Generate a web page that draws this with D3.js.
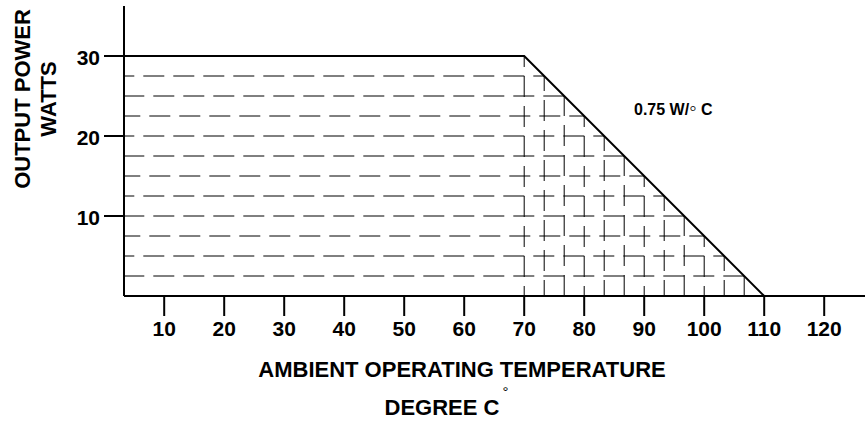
<!DOCTYPE html>
<html>
<head>
<meta charset="utf-8">
<script src="https://cdn.jsdelivr.net/npm/d3@7"></script>
<style>
  body { margin: 0; background: #fff; }
  svg { display: block; }
  text { font-family: Arial, "Liberation Sans", sans-serif; font-weight: bold; fill: #000; }
</style>
</head>
<body>
<svg id="chart" width="865" height="424"></svg>
<script>
// ---- data ----
const curveTemp  = [3.3, 70, 110];     // °C
const curvePower = [30, 30, 0];        // W
const xTicks = [10, 20, 30, 40, 50, 60, 70, 80, 90, 100, 110, 120];
const yTicks = [10, 20, 30];
const hatchLevels = [27.5, 25, 22.5, 20, 17.5, 15, 12.5, 10, 7.5, 5, 2.5]; // W
const xTitle = "AMBIENT OPERATING TEMPERATURE";
const xUnit = "DEGREE C";
const yTitle1 = "OUTPUT POWER";
const yTitle2 = "WATTS";
const slopeLabel = ["0.75 W/", "\u25E6", " C"];

// ---- layout ----
const svg = d3.select("#chart");
const x = d3.scaleLinear().domain([3.3, 126.8]).range([124, 865]);
const y = d3.scaleLinear().domain([0, 36.25]).range([296, 6]);

// ---- hatch (clipped to the safe operating area) ----
const areaPts = [[curveTemp[0], 0]].concat(curveTemp.map((t, i) => [t, curvePower[i]]));
svg.append("clipPath").attr("id", "soa")
  .append("path")
  .attr("d", d3.line().x(d => x(d[0])).y(d => y(d[1]))(areaPts) + "Z");

const hatch = svg.append("g").attr("clip-path", "url(#soa)")
  .attr("stroke", "#000").attr("stroke-width", 1).attr("fill", "none");

const period = 30;
const rowStarts = [23.3, 3.3, 29.3];
const x0 = x(curveTemp[0]);
hatch.selectAll("line.h").data(hatchLevels).join("line")
  .attr("class", "h")
  .attr("x1", x0).attr("x2", x(curveTemp[2]))
  .attr("y1", d => y(d)).attr("y2", d => y(d))
  .attr("stroke-dasharray", "21,9")
  .attr("stroke-dashoffset", (d, i) => (((x0 - rowStarts[i % 3]) % period) + period) % period);

// vertical hatch at temperatures where the derating line crosses each hatch level
const tempAtPower = d3.scaleLinear().domain([curvePower[1], curvePower[2]]).range([curveTemp[1], curveTemp[2]]);
const vTemps = [30].concat(hatchLevels).map(p => tempAtPower(p));
const colStarts = [16, 10, 5];
const yTop = y(curvePower[1]);
hatch.selectAll("line.v").data(vTemps).join("line")
  .attr("class", "v")
  .attr("x1", d => x(d)).attr("x2", d => x(d))
  .attr("y1", yTop).attr("y2", y(0))
  .attr("stroke-dasharray", "21,9")
  .attr("stroke-dashoffset", (d, i) => (((yTop - colStarts[i % 3]) % period) + period) % period);

// ---- derating curve ----
svg.append("path")
  .datum(curveTemp.map((t, i) => [t, curvePower[i]]))
  .attr("d", d3.line().x(d => x(d[0])).y(d => y(d[1])))
  .attr("fill", "none").attr("stroke", "#000").attr("stroke-width", 2);

// ---- axes ----
const gx = svg.append("g").attr("transform", `translate(0,${y(0)})`)
  .call(d3.axisBottom(x).tickValues(xTicks).tickSize(20).tickSizeOuter(0).tickPadding(5.5).offset(0));
const gy = svg.append("g").attr("transform", `translate(${x(curveTemp[0])},0)`)
  .call(d3.axisLeft(y).tickValues(yTicks).tickSize(20).tickSizeOuter(0).tickPadding(4).offset(0));
[gx, gy].forEach(g => {
  g.selectAll("path.domain").attr("stroke", "#000").attr("stroke-width", 2);
  g.selectAll(".tick line").attr("stroke", "#000").attr("stroke-width", 2);
  g.selectAll(".tick text").attr("fill", "#000")
    .style("font-family", 'Arial, "Liberation Sans", sans-serif')
    .style("font-weight", "bold").style("font-size", "21px");
  g.attr("font-family", null).attr("font-size", null);
});
gy.selectAll(".tick text").attr("dy", "0.43em");

// ---- titles ----
svg.append("text").attr("x", 462).attr("y", 376.5)
  .attr("text-anchor", "middle").style("font-size", "22px").text(xTitle);
svg.append("text").attr("x", 442).attr("y", 415)
  .attr("text-anchor", "middle").style("font-size", "22px").text(xUnit);
svg.append("text").attr("x", 505.5).attr("y", 397)
  .attr("text-anchor", "middle").style("font-size", "15px").style("font-weight", "normal").text("\u00B0");

svg.append("text").attr("transform", "translate(30,99) rotate(-90)")
  .attr("text-anchor", "middle").style("font-size", "22px").text(yTitle1);
svg.append("text").attr("transform", "translate(55.5,99) rotate(-90)")
  .attr("text-anchor", "middle").style("font-size", "22px").text(yTitle2);

const ann = svg.append("text").attr("x", 634).attr("y", 115).style("font-size", "16px");
ann.append("tspan").text(slopeLabel[0]);
ann.append("tspan").style("font-size", "21px").style("font-weight", "normal").text(slopeLabel[1]);
ann.append("tspan").text(slopeLabel[2]);
</script>
</body>
</html>
